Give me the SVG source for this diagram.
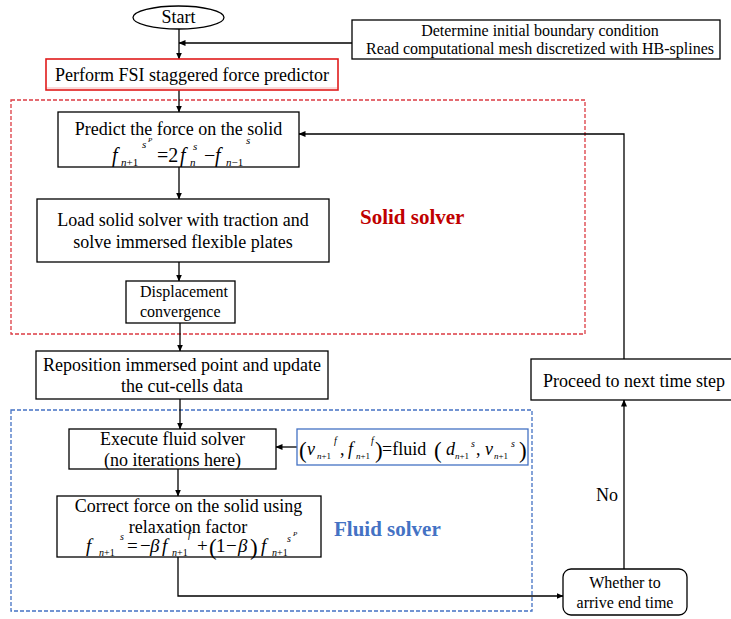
<svg xmlns="http://www.w3.org/2000/svg" width="731" height="619" viewBox="0 0 731 619">
  <defs>
    <marker id="arrow" markerWidth="7" markerHeight="6" refX="6.5" refY="3" orient="auto" markerUnits="userSpaceOnUse">
      <path d="M0,0 L7,3 L0,6 Z" fill="#000"/>
    </marker>
    <style>
      text { font-family: "Liberation Serif", "Times New Roman", Times, serif; }
      .box { fill: #fff; stroke: #000; stroke-width: 1.3; }
      .t { font-size: 18px; fill: #000; text-anchor: middle; }
      .tc16 { font-size: 16px; fill: #000; text-anchor: middle; }
      .t16 { font-size: 16px; fill: #000; }
      .m { fill: #000; }
      .i { font-style: italic; }
      .conn { fill: none; stroke: #000; stroke-width: 1.3; }
      .region { fill: none; stroke-width: 1.3; stroke-dasharray: 4 2; }
      .label { font-size: 21px; font-weight: bold; }
    </style>
  </defs>

  <!-- solver regions -->
  <g id="solid-region">
    <rect x="11" y="100" width="574" height="234" class="region" stroke="#DC3B43"/>
    <text x="360" y="224" class="label" fill="#C00000">Solid solver</text>
  </g>
  <g id="fluid-region">
    <rect x="11" y="410" width="521" height="201" class="region" stroke="#4472C4"/>
    <text x="334" y="536" class="label" fill="#4472C4">Fluid solver</text>
  </g>

  <!-- connectors -->
  <g id="connectors">
    <line x1="179" y1="29" x2="179" y2="59" class="conn" marker-end="url(#arrow)"/>
    <line x1="352" y1="43" x2="179" y2="43" class="conn" marker-end="url(#arrow)"/>
    <line x1="179" y1="90" x2="179" y2="112" class="conn" marker-end="url(#arrow)"/>
    <line x1="179" y1="167" x2="179" y2="199" class="conn" marker-end="url(#arrow)"/>
    <line x1="179" y1="262" x2="179" y2="281" class="conn" marker-end="url(#arrow)"/>
    <line x1="180" y1="323" x2="180" y2="351" class="conn" marker-end="url(#arrow)"/>
    <line x1="180" y1="399" x2="180" y2="429" class="conn" marker-end="url(#arrow)"/>
    <line x1="178" y1="469" x2="178" y2="496" class="conn" marker-end="url(#arrow)"/>
    <polyline points="178,557 178,596 563,596" class="conn" stroke-width="2" marker-end="url(#arrow)"/>
    <line x1="624" y1="569" x2="624" y2="400" class="conn" marker-end="url(#arrow)"/>
    <polyline points="624,359 624,134 299,134" class="conn" marker-end="url(#arrow)"/>
    <line x1="297" y1="447" x2="276" y2="447" class="conn" marker-end="url(#arrow)"/>
    <text x="607" y="501" class="t">No</text>
  </g>

  <g id="start">
    <ellipse cx="178.5" cy="17.5" rx="45.5" ry="11.5" class="box"/>
    <text x="178.5" y="23" class="t">Start</text>
  </g>

  <g id="init">
    <rect x="352" y="20" width="368" height="39" class="box"/>
    <text x="540" y="36" class="tc16">Determine initial boundary condition</text>
    <text x="540" y="54" class="tc16">Read computational mesh discretized with HB-splines</text>
  </g>

  <g id="predictor">
    <rect x="46" y="59" width="292" height="31" fill="#fff" stroke="#E01B1B" stroke-width="1.6"/>
    <line x1="47" y1="88" x2="337" y2="88" stroke="#F4B6B6" stroke-width="1.2"/>
    <text x="192" y="81" class="t">Perform FSI staggered force predictor</text>
  </g>

  <g id="predict-force">
    <rect x="58" y="112" width="241" height="55" class="box"/>
    <text x="178.5" y="135" class="t">Predict the force on the solid</text>
    <g class="m">
      <text x="112" y="162" font-size="20" class="i">f</text>
      <text x="121" y="166" font-size="11"><tspan class="i">n</tspan>+1</text>
      <text x="142" y="148" font-size="11" class="i">s</text>
      <text x="148" y="142" font-size="7" class="i">P</text>
      <text x="157" y="162" font-size="20">=2</text>
      <text x="180" y="162" font-size="20" class="i">f</text>
      <text x="190" y="166" font-size="11" class="i">n</text>
      <text x="193" y="150" font-size="11" class="i">s</text>
      <text x="204" y="162" font-size="20">−</text>
      <text x="215" y="162" font-size="20" class="i">f</text>
      <text x="226" y="166" font-size="11"><tspan class="i">n</tspan>−1</text>
      <text x="246" y="144" font-size="11" class="i">s</text>
    </g>
  </g>

  <g id="load-solid">
    <rect x="37" y="199" width="292" height="63" class="box"/>
    <text x="183" y="226" class="t">Load solid solver with traction and</text>
    <text x="183" y="248" class="t">solve immersed flexible plates</text>
  </g>

  <g id="displacement">
    <rect x="126" y="281" width="109" height="42" class="box"/>
    <text x="140" y="297" class="t16">Displacement</text>
    <text x="140" y="317" class="t16">convergence</text>
  </g>

  <g id="reposition">
    <rect x="36" y="351" width="292" height="48" class="box"/>
    <text x="182" y="371" class="t">Reposition immersed point and update</text>
    <text x="182" y="392" class="t">the cut-cells data</text>
  </g>

  <g id="execute-fluid">
    <rect x="69" y="429" width="207" height="40" class="box"/>
    <text x="172.5" y="445" class="t">Execute fluid solver</text>
    <text x="172.5" y="466" class="t">(no iterations here)</text>
  </g>

  <g id="fluid-eq">
    <rect x="297" y="429" width="231" height="36" fill="#fff" stroke="#4472C4" stroke-width="1.3"/>
    <g class="m">
      <text x="299" y="458" font-size="23">(</text>
      <text x="307" y="455" font-size="18" class="i">v</text>
      <text x="317" y="459" font-size="9"><tspan class="i">n</tspan>+1</text>
      <text x="334" y="444" font-size="10" class="i">f</text>
      <text x="340" y="455" font-size="18">,</text>
      <text x="348" y="455" font-size="18" class="i">f</text>
      <text x="356" y="459" font-size="9"><tspan class="i">n</tspan>+1</text>
      <text x="371" y="444" font-size="10" class="i">f</text>
      <text x="375" y="458" font-size="23">)</text>
      <text x="382" y="455" font-size="18">=fluid</text>
      <text x="434" y="458" font-size="23">(</text>
      <text x="446" y="455" font-size="18" class="i">d</text>
      <text x="455" y="459" font-size="9"><tspan class="i">n</tspan>+1</text>
      <text x="471" y="447" font-size="10" class="i">s</text>
      <text x="476" y="455" font-size="18">,</text>
      <text x="485" y="455" font-size="18" class="i">v</text>
      <text x="494" y="459" font-size="9"><tspan class="i">n</tspan>+1</text>
      <text x="511" y="447" font-size="10" class="i">s</text>
      <text x="519" y="458" font-size="23">)</text>
    </g>
  </g>

  <g id="correct-force">
    <rect x="57" y="496" width="264" height="61" class="box"/>
    <text x="188.5" y="512" class="t">Correct force on the solid using</text>
    <text x="188" y="533" class="t">relaxation factor</text>
    <g class="m">
      <text x="86" y="552" font-size="19" class="i">f</text>
      <text x="99" y="556" font-size="10"><tspan class="i">n</tspan>+1</text>
      <text x="120" y="540" font-size="10" class="i">s</text>
      <text x="127" y="552" font-size="19">=</text>
      <text x="140" y="552" font-size="19">−</text>
      <text x="150" y="552" font-size="19" class="i">β</text>
      <text x="162" y="552" font-size="19" class="i">f</text>
      <text x="172" y="556" font-size="10"><tspan class="i">n</tspan>+1</text>
      <text x="188" y="538" font-size="10" class="i">f</text>
      <text x="197" y="552" font-size="19">+</text>
      <text x="209" y="555" font-size="23">(</text>
      <text x="216" y="552" font-size="19">1</text>
      <text x="226" y="552" font-size="19">−</text>
      <text x="238" y="552" font-size="19" class="i">β</text>
      <text x="250" y="555" font-size="23">)</text>
      <text x="261" y="552" font-size="19" class="i">f</text>
      <text x="272" y="556" font-size="10"><tspan class="i">n</tspan>+1</text>
      <text x="287" y="542" font-size="10" class="i">s</text>
      <text x="293" y="536" font-size="7" class="i">P</text>
    </g>
  </g>

  <g id="next-step">
    <rect x="531" y="359" width="205" height="41" class="box"/>
    <text x="634" y="387" class="t">Proceed to next time step</text>
  </g>

  <g id="end-check">
    <rect x="563" y="569" width="124" height="46" rx="8" ry="8" class="box"/>
    <text x="625" y="588" class="tc16">Whether to</text>
    <text x="625" y="608" class="tc16">arrive end time</text>
  </g>
</svg>
